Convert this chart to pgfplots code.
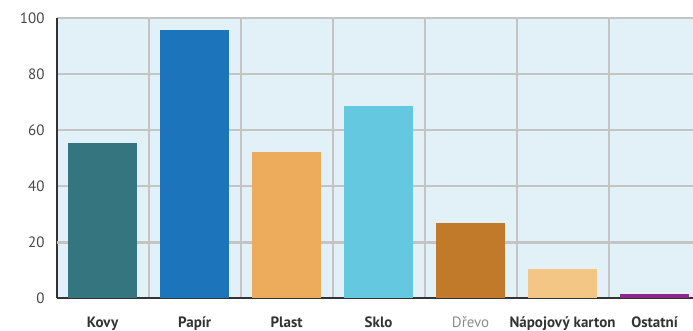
\documentclass[border=0pt]{standalone}
\usepackage{pgfplots}
\pgfplotsset{compat=1.18}
\usepackage{fontspec}
\setmainfont{PT Sans}

\definecolor{bgblue}{HTML}{E2F1F7}
\definecolor{gridgray}{HTML}{C4C4C4}
\definecolor{axisdark}{HTML}{333333}
\definecolor{kovy}{HTML}{357580}
\definecolor{papir}{HTML}{1C74BB}
\definecolor{plast}{HTML}{EDAB5C}
\definecolor{sklo}{HTML}{63C8E0}
\definecolor{drevo}{HTML}{C17A2A}
\definecolor{karton}{HTML}{F4C685}
\definecolor{ostatni}{HTML}{8B2A8B}

\begin{document}
\begin{tikzpicture}[x=1pt,y=1pt]
\path[use as bounding box] (0,0) rectangle (693,331);
\begin{axis}[
  at={(56.7pt,32.5pt)}, anchor=south west,
  scale only axis, width=636.3pt, height=280pt,
  xmin=-0.5, xmax=6.418, ymin=0, ymax=100,
  axis background/.style={fill=bgblue},
  axis x line*=bottom, axis y line*=left,
  axis line style={axisdark, line width=2pt},
  ybar, bar width=68.5pt, bar shift=0pt,
  xtick={0,...,6},
  xticklabels={Kovy, Papír, Plast, Sklo, {\mdseries\color{gray!90}Dřevo}, Nápojový karton, Ostatní},
  minor xtick={0.5,1.5,...,6.5},
  ytick={0,20,...,100},
  xmajorgrids=false, xminorgrids=true, ymajorgrids=true,
  grid style={gridgray, line width=2pt},
  minor grid style={gridgray, line width=2pt},
  extra y ticks={20}, extra y tick labels={},
  extra y tick style={grid style={gridgray, line width=3pt}},
  major tick length=0pt, minor tick length=0pt,
  tick style={draw=none},
  /pgf/number format/assume math mode=true,
  yticklabel style={font=\fontsize{15}{17}\selectfont, text=axisdark!90, anchor=east, inner sep=0pt, xshift=-12pt},
  xticklabel style={font=\fontsize{15}{17}\selectfont\bfseries, text=axisdark, anchor=base, inner sep=0pt, yshift=-29pt},
  clip=true,
]
\addplot[fill=kovy, draw=none] coordinates {(0,55.4)};
\addplot[fill=papir, draw=none] coordinates {(1,96.0)};
\addplot[fill=plast, draw=none] coordinates {(2,52.4)};
\addplot[fill=sklo, draw=none] coordinates {(3,68.8)};
\addplot[fill=drevo, draw=none] coordinates {(4,27.0)};
\addplot[fill=karton, draw=none] coordinates {(5,10.4)};
\addplot[fill=ostatni, draw=none] coordinates {(6,1.5)};
\end{axis}
\end{tikzpicture}
\end{document}
